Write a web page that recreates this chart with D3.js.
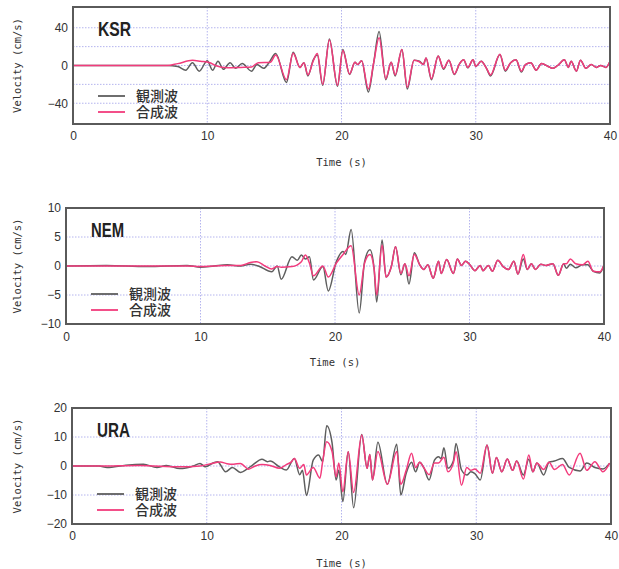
<!DOCTYPE html>
<html>
<head>
<meta charset="utf-8">
<script src="https://cdn.jsdelivr.net/npm/d3@7"></script>
<style>
  body { margin: 0; background: #fff; }
  svg { display: block; }
</style>
</head>
<body>
<div id="chart"></div>
<script>
// x axis ticks (shared by all panels)
const timeTicks = [0, 10, 20, 30, 40];
const legendLabels = ["観測波", "合成波"];

// KSR
const ksrTicks = [-40, 0, 40];
const ksrGrid = [-40, -20, 0, 20, 40];
const ksrObserved = [[0,0],[7.0,0],[7.8,-1],[8.4,-5],[8.9,3],[9.4,-6],[10.0,5],[10.4,-5],[10.8,4.5],[11.2,-4],[11.7,3],[12.1,-3],[12.6,2],[13.3,-6],[13.7,1],[14.2,-3],[14.6,3],[15.1,12.6],[15.9,-18],[16.4,14],[16.9,-2],[17.2,3],[17.5,-11],[17.9,6],[18.2,11],[18.6,-21],[19.1,28],[19.7,-22],[20.1,17],[20.6,-9.5],[21.0,3.5],[21.2,1],[21.5,5],[22.0,-28],[22.4,3],[22.8,36],[23.3,-15],[23.7,3.5],[24.0,-11],[24.5,17],[24.9,-25],[25.4,5.6],[25.8,4.5],[26.1,1],[26.3,8],[26.7,-15],[27.2,10],[27.6,-4],[28.0,5.6],[28.4,-9.5],[28.8,2],[29.1,6],[29.4,-2.5],[29.8,6],[30.0,-1],[30.4,4.5],[30.8,-3],[31.1,-11],[31.8,11.6],[32.2,-6],[32.6,3],[33.0,6],[33.4,-7],[33.7,1],[34.1,3],[34.5,-5],[34.9,2],[35.4,-1],[35.7,-3],[36.1,0],[36.6,6],[36.9,-2],[37.1,4.5],[37.5,-6],[37.8,5.6],[38.2,-3],[38.6,1],[39.0,-2],[39.3,0],[39.7,-2],[40,4.5]];
const ksrSynthetic = [[0,0],[7,0],[7.8,2],[8.9,5.5],[9.5,4.5],[10.2,3],[10.6,0],[11.5,-2.5],[12.5,-2],[13.3,-1.5],[13.8,3],[14.7,3.5],[15.1,11],[15.9,-15],[16.4,13],[16.9,-2],[17.2,3],[17.5,-10],[17.9,5],[18.2,12.6],[18.6,-20],[19.1,27],[19.7,-21],[20.1,16],[20.6,-9],[21.0,3.5],[21.2,1],[21.5,5],[22.0,-25],[22.4,3],[22.8,29.5],[23.3,-14],[23.7,3.5],[24.0,-10],[24.5,17],[24.9,-23],[25.4,5.6],[25.8,4],[26.1,1],[26.3,8],[26.7,-14],[27.2,10],[27.6,-3],[28.0,5.6],[28.4,-9],[28.8,2],[29.1,6],[29.4,-2],[29.8,6],[30.0,-1],[30.4,4.5],[30.8,-3],[31.1,-10],[31.8,12],[32.2,-5],[32.6,3],[33.0,6],[33.4,-6],[33.7,1],[34.1,3],[34.5,-5],[34.9,2],[35.4,-1],[35.7,-3],[36.1,0],[36.6,6],[36.9,-2],[37.1,4.5],[37.5,-6],[37.8,5.6],[38.2,-3],[38.6,1],[39.0,-2],[39.3,0],[39.7,-2],[40,4.5]];

// NEM
const nemTicks = [-10, -5, 0, 5, 10];
const nemGrid = [-5, 0, 5];
const nemObserved = [[0,0],[3,0.1],[6,-0.1],[9,0.1],[10,-0.2],[11,0],[12,0.2],[13,0],[13.7,0.3],[14.3,0],[15.3,-1],[15.7,0],[16.0,-2.3],[16.8,1.6],[17.2,1.0],[17.5,1.9],[17.8,1.2],[18.1,1.6],[18.4,-2.4],[19.1,-0.1],[19.5,-4.3],[20.1,0.75],[20.6,2.5],[20.8,2.0],[21.2,6.3],[21.8,-8.1],[22.2,0.75],[22.6,2.8],[22.9,-0.3],[23.1,-6.2],[23.5,4.5],[23.8,-1.9],[24.2,0],[24.5,3.3],[24.9,-1.5],[25.2,0.4],[25.5,-3.1],[25.9,2.3],[26.3,0.2],[26.6,-0.6],[26.9,0.2],[27.3,-2.1],[27.7,0.8],[27.9,-1.3],[28.3,1.1],[28.8,-1.3],[29.1,1.2],[29.4,0.1],[29.7,0.8],[30.0,0.3],[30.4,-0.8],[30.8,0.1],[31.0,-0.8],[31.4,0.1],[31.7,-0.9],[32.1,1],[32.5,-0.1],[32.9,-0.6],[33.3,0.8],[33.6,-1.4],[34.0,1.2],[34.3,-0.6],[34.6,0.4],[34.9,-0.6],[35.3,0.3],[35.7,0.1],[36.2,0.4],[36.6,-1.6],[37.0,0.4],[37.2,-0.4],[37.5,0.3],[37.9,-0.3],[38.4,0.2],[38.8,0.2],[39.2,-0.9],[39.7,-1.2],[40,0.2]];
const nemSynthetic = [[0,0],[3,0],[6,0],[9,0],[10,-0.1],[11,0],[12,0.1],[13,0.1],[13.7,0.6],[14.2,0.75],[14.8,0],[15.3,-0.5],[15.7,-0.1],[16.0,-0.2],[16.8,-0.1],[17.5,0.75],[17.8,1.9],[18.1,0.5],[18.4,-1.7],[19.1,0],[19.5,-1.9],[20.1,0.5],[20.6,2],[21.2,3.5],[21.8,-5],[22.2,0.5],[22.6,2],[22.9,-0.3],[23.1,-5],[23.5,3.6],[23.8,-1.9],[24.2,0],[24.5,3.3],[24.9,-1.3],[25.2,0.4],[25.5,-1.7],[25.9,2],[26.3,0.2],[26.6,-0.6],[26.9,0.2],[27.3,-2.1],[27.7,0.8],[27.9,-1.3],[28.3,1.1],[28.8,-1.3],[29.1,1.2],[29.4,0.1],[29.7,0.8],[30.0,0.3],[30.4,-0.8],[30.8,0.1],[31.0,-0.8],[31.4,0.1],[31.7,-0.9],[32.1,1],[32.5,-0.1],[32.9,-0.6],[33.3,0.8],[33.6,-1.4],[34.0,2],[34.3,-0.6],[34.6,0.4],[34.9,-0.6],[35.3,0.3],[35.7,0.1],[36.2,0.4],[36.6,-1.6],[37.0,0.4],[37.2,0.4],[37.5,1.2],[37.9,0.4],[38.4,0.2],[38.8,0.8],[39.2,-0.9],[39.7,-1.0],[40,0.2]];

// URA
const uraTicks = [-20, -10, 0, 10, 20];
const uraGrid = [-10, 0, 10];
const uraObserved = [[0,0],[2,0],[2.6,-0.5],[4,0.3],[5.3,0.6],[6.3,-0.5],[7,0.2],[8.0,-0.9],[9.0,0],[9.5,0.9],[9.9,-0.3],[10.5,1.1],[10.8,1.5],[11.4,-2],[11.9,-0.5],[12.5,-2.2],[13.0,-1],[13.4,0.3],[14.1,2.3],[14.5,1.5],[14.7,1.7],[15.4,-0.3],[15.9,-1.4],[16.5,2.6],[16.9,-3],[17.1,-1.5],[17.4,-10.2],[17.9,2],[18.3,3.8],[18.6,1.5],[18.9,13.9],[19.3,8],[19.6,-4.8],[19.8,-1.5],[20.1,-12.3],[20.5,4.9],[20.9,-14.4],[21.5,10.9],[21.9,-0.8],[22.1,4],[22.3,-4.8],[22.7,8.2],[23.4,-6.3],[24.1,7.5],[24.4,-10],[24.8,-2.5],[25.2,1.3],[25.5,-2.0],[25.8,1.3],[26.1,-0.5],[26.5,-4.8],[26.9,2],[27.2,3.2],[27.4,2.5],[27.6,6.3],[27.9,-0.8],[28.3,1.7],[28.5,7.8],[28.9,-1.3],[29.3,-3.1],[29.6,-2.0],[29.9,-2.6],[30.3,-4.8],[30.8,7.2],[31.2,-2.5],[31.5,2.9],[31.9,-2.0],[32.3,2.4],[32.7,-1.5],[33.0,1.7],[33.5,-3.1],[33.9,2.3],[34.2,-2],[34.5,1],[35.0,-3.1],[35.4,1.3],[35.8,1.7],[36.4,2.6],[36.9,-0.5],[37.7,-1.7],[38.2,1],[38.8,-0.5],[39.4,-1],[39.9,1]];
const uraSynthetic = [[0,0],[2,0],[5,0.2],[8,-0.3],[9.5,0],[10.3,0.8],[11.0,1.4],[11.5,0.8],[12.0,0.6],[12.5,0.9],[13.1,-1.1],[13.6,0],[14.1,0.5],[14.7,0.2],[15.4,-0.8],[15.9,0.5],[16.3,1.5],[16.5,2.6],[16.9,-0.8],[17.2,0.5],[17.4,-3.1],[17.9,-0.5],[18.4,-4.2],[18.6,1.5],[18.9,8.4],[19.3,5],[19.6,-3.7],[19.8,1],[20.1,-8.9],[20.5,4.9],[20.9,-9.1],[21.5,10.7],[21.9,-0.8],[22.1,4],[22.3,-4.8],[22.7,5],[23.4,-6.3],[24.1,5],[24.4,-6.3],[24.8,-1.5],[25.2,4.4],[25.5,-0.5],[25.8,1.3],[26.1,-0.5],[26.5,-3],[26.9,1],[27.2,1],[27.6,3],[27.9,-2],[28.3,1],[28.5,4.9],[28.9,-6.6],[29.3,-0.5],[29.6,-1.5],[29.9,-1],[30.3,-2.5],[30.8,7.2],[31.2,-2.5],[31.5,2.9],[31.9,-2],[32.3,2.4],[32.7,-1.5],[33.0,1.7],[33.5,-4.5],[33.9,3.8],[34.2,-2],[34.5,1],[35.0,-1.2],[35.4,1.3],[35.8,-1.2],[36.4,0.5],[36.9,-3.1],[37.7,4.4],[38.2,-1.5],[38.8,1.5],[39.4,-2],[39.9,1]];

const width = 619, height = 569;
const colors = { obs: "#5e5e5e", syn: "#f23b7c", frame: "#5a5a5a", grid: "#b4b4ee", text: "#333" };

const panels = [
  { name: "KSR", obs: ksrObserved, syn: ksrSynthetic, ticks: ksrTicks, grid: ksrGrid, domain: [-62, 62],
    left: 73, right: 610, top: 7, bottom: 124, tickY: 137, titleY: 162, legendY: 96 },
  { name: "NEM", obs: nemObserved, syn: nemSynthetic, ticks: nemTicks, grid: nemGrid, domain: [-10, 10],
    left: 66, right: 604, top: 208, bottom: 324, tickY: 338, titleY: 362, legendY: 294 },
  { name: "URA", obs: uraObserved, syn: uraSynthetic, ticks: uraTicks, grid: uraGrid, domain: [-20, 20],
    left: 72, right: 611, top: 408, bottom: 524, tickY: 537, titleY: 563, legendY: 494 }
];

const svg = d3.select("#chart").append("svg")
  .attr("width", width)
  .attr("height", height);

svg.append("rect").attr("width", width).attr("height", height).attr("fill", "#fff");

panels.forEach((p) => {
  const x = d3.scaleLinear().domain([0, 40]).range([p.left, p.right]);
  const y = d3.scaleLinear().domain(p.domain).range([p.bottom, p.top]);
  const g = svg.append("g");

  // grid
  g.selectAll(".hgrid").data(p.grid).join("line")
    .attr("x1", p.left).attr("x2", p.right)
    .attr("y1", (d) => y(d)).attr("y2", (d) => y(d))
    .attr("stroke", colors.grid).attr("stroke-width", 1)
    .attr("stroke-dasharray", "1.5,1.5");
  g.selectAll(".vgrid").data(timeTicks.slice(1, -1)).join("line")
    .attr("x1", (d) => x(d)).attr("x2", (d) => x(d))
    .attr("y1", p.top).attr("y2", p.bottom)
    .attr("stroke", colors.grid).attr("stroke-width", 1)
    .attr("stroke-dasharray", "1.5,1.5");

  // waves
  const line = d3.line()
    .x((d) => x(d[0]))
    .y((d) => y(d[1]))
    .curve(d3.curveMonotoneX);
  g.append("path").datum(p.obs)
    .attr("d", line).attr("fill", "none")
    .attr("stroke", colors.obs).attr("stroke-width", 1.5);
  g.append("path").datum(p.syn)
    .attr("d", line).attr("fill", "none")
    .attr("stroke", colors.syn).attr("stroke-width", 1.5);

  // frame
  g.append("rect")
    .attr("x", p.left).attr("y", p.top)
    .attr("width", p.right - p.left).attr("height", p.bottom - p.top)
    .attr("fill", "none").attr("stroke", colors.frame).attr("stroke-width", 2);

  // axes (labels only, no tick marks)
  const yAxis = g.append("g")
    .attr("transform", `translate(${p.left},0)`)
    .call(d3.axisLeft(y).tickValues(p.ticks).tickSize(0).tickPadding(5));
  yAxis.select(".domain").remove();
  yAxis.selectAll("text")
    .attr("font-family", "Liberation Sans, Arial, sans-serif")
    .attr("font-size", 12).attr("fill", colors.text);

  const xAxis = g.append("g")
    .attr("transform", `translate(0,${p.tickY - 6})`)
    .call(d3.axisBottom(x).tickValues(timeTicks).tickSize(0).tickPadding(0));
  xAxis.select(".domain").remove();
  xAxis.selectAll("text")
    .attr("font-family", "Liberation Sans, Arial, sans-serif")
    .attr("font-size", 12).attr("fill", colors.text);

  g.append("text")
    .attr("x", (p.left + p.right) / 2).attr("y", p.titleY)
    .attr("text-anchor", "middle").attr("dominant-baseline", "central")
    .attr("font-family", "DejaVu Sans Mono, monospace")
    .attr("font-size", 10.5).attr("fill", colors.text)
    .text("Time (s)");

  g.append("text")
    .attr("transform", `translate(17,${(p.top + p.bottom) / 2}) rotate(-90)`)
    .attr("text-anchor", "middle").attr("dominant-baseline", "central")
    .attr("font-family", "DejaVu Sans Mono, monospace")
    .attr("font-size", 10.5).attr("fill", colors.text)
    .text("Velocity (cm/s)");

  // station name
  g.append("text")
    .attr("x", p.left + 25).attr("y", p.top + 29)
    .attr("font-family", "Liberation Sans, Arial, sans-serif")
    .attr("font-size", 20).attr("font-weight", 600).attr("fill", "#222")
    .attr("textLength", 33).attr("lengthAdjust", "spacingAndGlyphs")
    .text(p.name);

  // legend: swatches, then both labels in one text block
  [colors.obs, colors.syn].forEach((c, i) => {
    const ly = p.legendY + i * 16;
    g.append("line")
      .attr("x1", p.left + 25).attr("x2", p.left + 52)
      .attr("y1", ly).attr("y2", ly)
      .attr("stroke", c).attr("stroke-width", 1.8);
  });
  g.append("text")
    .attr("font-family", "Noto Sans CJK JP, sans-serif")
    .attr("font-size", 14).attr("font-weight", 500).attr("fill", colors.text)
    .selectAll("tspan").data(legendLabels).join("tspan")
    .attr("x", p.left + 63)
    .attr("y", (d, i) => p.legendY + i * 16 + 5)
    .text((d) => d);
});
</script>
</body>
</html>
